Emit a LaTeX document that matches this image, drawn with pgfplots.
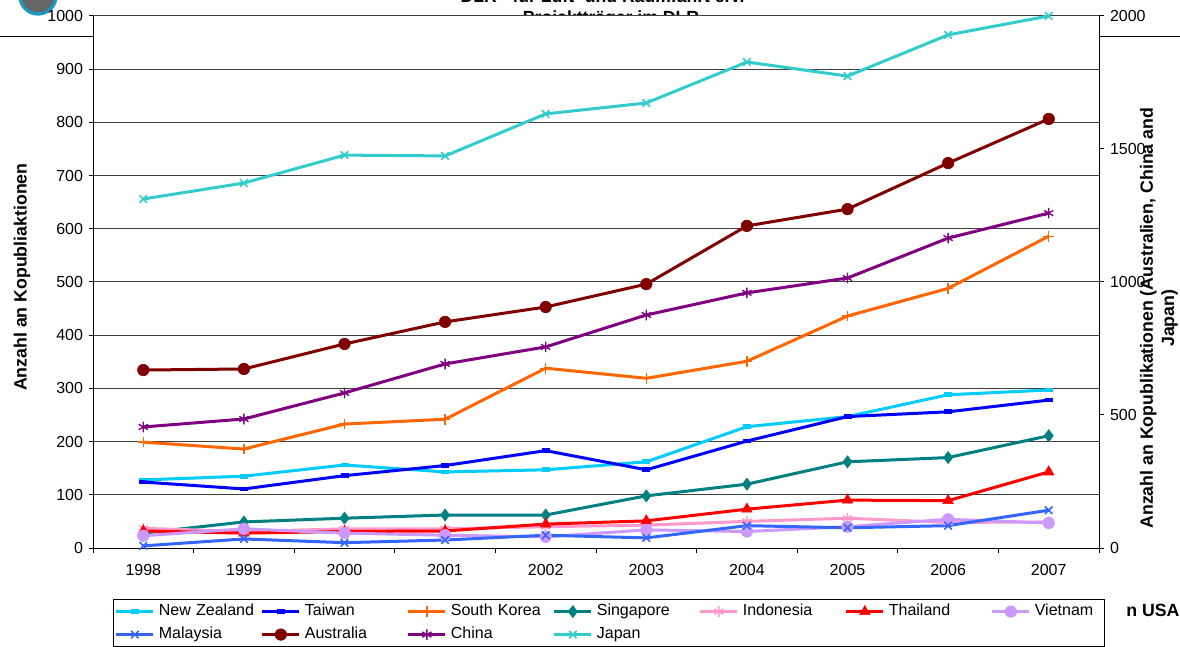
\documentclass[border=0pt]{standalone}
\usepackage{fontspec}
\setmainfont{Liberation Sans}
\usepackage{pgfplots}
\pgfplotsset{compat=1.18}

\definecolor{cNZ}{RGB}{0,204,255}
\definecolor{cTW}{RGB}{0,0,255}
\definecolor{cSK}{RGB}{255,102,0}
\definecolor{cSG}{RGB}{0,128,128}
\definecolor{cID}{RGB}{255,153,204}
\definecolor{cTH}{RGB}{255,0,0}
\definecolor{cVN}{RGB}{204,153,255}
\definecolor{cMY}{RGB}{51,102,255}
\definecolor{cAU}{RGB}{128,0,0}
\definecolor{cCN}{RGB}{128,0,128}
\definecolor{cJP}{RGB}{51,204,204}
\definecolor{cLogo}{RGB}{30,150,190}

\tikzset{
  sNZ/.style={color=cNZ, line width=2.25pt, mark=-, mark size=3pt, mark options={solid, line width=3.5pt}},
  sTW/.style={color=cTW, line width=2.25pt, mark=-, mark size=3pt, mark options={solid, line width=3.5pt}},
  sSK/.style={color=cSK, line width=2.25pt, mark=+, mark size=4pt, mark options={solid, line width=1pt}},
  sSG/.style={color=cSG, line width=2.25pt, mark=diamond*, mark size=4.5pt, mark options={solid, line width=0.5pt}},
  sID/.style={color=cID, line width=2.25pt, mark=asterisk, mark size=4pt, mark options={solid, line width=1pt}},
  sTH/.style={color=cTH, line width=2.25pt, mark=triangle*, mark size=4.5pt, mark options={solid, line width=0.5pt}},
  sVN/.style={color=cVN, line width=2.25pt, mark=*, mark size=4.3pt, mark options={solid, line width=0.5pt}},
  sMY/.style={color=cMY, line width=2.25pt, mark=x, mark size=4pt, mark options={solid, line width=1.2pt}},
  sAU/.style={color=cAU, line width=2.25pt, mark=*, mark size=4.3pt, mark options={solid, line width=0.5pt}},
  sCN/.style={color=cCN, line width=2.25pt, mark=asterisk, mark size=4pt, mark options={solid, line width=1pt}},
  sJP/.style={color=cJP, line width=2.25pt, mark=x, mark size=4pt, mark options={solid, line width=1.2pt}},
}

\pgfplotsset{
  common/.style={
    at={(69.75pt,73.5pt)}, anchor=south west,
    scale only axis, width=754.5pt, height=399pt,
    xmin=1997.5, xmax=2007.5,
    tick align=outside,
    tick style={black, line width=0.75pt},
    axis line style={-, black, line width=0.75pt},
    tick label style={font=\fontsize{12}{14}\selectfont},
    /pgf/number format/assume math mode=true,
    /pgf/number format/1000 sep={},
    clip=false,
  },
}

\begin{document}
\begin{tikzpicture}[x=1pt,y=1pt]
\useasboundingbox (0,0) rectangle (885,484.5);
\clip (0,0) rectangle (885,484.5);

% slide background elements
\draw[line width=0.75pt] (0,456.75) -- (885,456.75);
\draw[draw=cLogo, line width=2.5pt, fill=black!60] (28.5,487.5) circle (13.5);
\node[font=\bfseries\fontsize{13.2}{15}\selectfont, anchor=base, inner sep=0] at (452,482.5) {DLR - für Luft- und Raumfahrt e.V.};
\node[font=\bfseries\fontsize{13.2}{15}\selectfont, anchor=base, inner sep=0] at (458.25,466.8) {Projektträger im DLR};
\node[font=\bfseries\fontsize{13.3}{16}\selectfont, anchor=west, inner sep=0] at (844.5,27) {n USA};

% left axis
\begin{axis}[common,
  ymin=0, ymax=1000,
  axis x line*=bottom, axis y line*=left,
  axis background/.style={fill=white},
  xtick={1998,1999,2000,2001,2002,2003,2004,2005,2006,2007},
  xticklabels={1998,1999,2000,2001,2002,2003,2004,2005,2006,2007},
  minor xtick={1997.5,1998.5,1999.5,2000.5,2001.5,2002.5,2003.5,2004.5,2005.5,2006.5,2007.5},
  major x tick style={draw=none},
  major tick length=3pt, minor tick length=4pt,
  xticklabel style={yshift=-5.5pt},
  yticklabel style={xshift=-1pt},
  ytick={0,100,...,1000},
  ymajorgrids, major grid style={black!75, line width=0.75pt},
  ylabel={Anzahl an Kopubliaktionen},
  ylabel style={font=\bfseries\fontsize{13.3}{16}\selectfont, at={(axis description cs:-0.0706,0.509)}, anchor=center},
]
\addplot[sNZ] coordinates {(1998,128) (1999,135) (2000,156) (2001,143) (2002,147) (2003,162) (2004,228) (2005,247) (2006,288) (2007,297)};
\addplot[sTW] coordinates {(1998,124) (1999,111) (2000,136) (2001,155) (2002,183) (2003,147) (2004,201) (2005,247) (2006,256) (2007,278)};
\addplot[sSK] coordinates {(1998,199) (1999,186) (2000,233) (2001,242) (2002,338) (2003,319) (2004,351) (2005,436) (2006,488) (2007,586)};
\addplot[sSG] coordinates {(1998,28) (1999,49) (2000,56) (2001,62) (2002,62) (2003,98) (2004,120) (2005,162) (2006,170) (2007,211)};
\addplot[sID] coordinates {(1998,37) (1999,31) (2000,36) (2001,36) (2002,40) (2003,43) (2004,50) (2005,56) (2006,48) (2007,49)};
\addplot[sTH] coordinates {(1998,32) (1999,28) (2000,31) (2001,32) (2002,45) (2003,51) (2004,73) (2005,90) (2006,89) (2007,143)};
\addplot[sVN] coordinates {(1998,23) (1999,36) (2000,28) (2001,24) (2002,21) (2003,34) (2004,31) (2005,40) (2006,54) (2007,47)};
\addplot[sMY] coordinates {(1998,4) (1999,17) (2000,10) (2001,15) (2002,24) (2003,19) (2004,42) (2005,38) (2006,42) (2007,71)};
\end{axis}

% right axis
\begin{axis}[common,
  ymin=0, ymax=2000,
  axis y line*=right, axis x line=none,
  ytick={0,500,...,2000},
  major tick length=3.75pt,
  yticklabel style={xshift=1pt},
  ylabel={Anzahl an Kopublikationen (Australien, China and\\Japan)},
  ylabel style={font=\bfseries\fontsize{13.3}{16}\selectfont, align=center, at={(axis description cs:1.0596,0.432)}, anchor=center},
  legend columns=7,
  legend cell align=left,
  legend image code/.code={\draw[mark repeat=2,mark phase=2] plot coordinates {(0pt,0pt)(13.875pt,0pt)(27.75pt,0pt)};},
  legend style={at={(axis description cs:0.0199,-0.0959)}, anchor=north west,
    draw=black, line width=0.75pt, fill=white, inner xsep=1pt, inner ysep=0.5pt,
    font=\fontsize{12}{14}\selectfont, row sep=0pt, column sep=0pt,
    nodes={inner xsep=3pt, inner ysep=2.6pt, text height=9pt, text depth=3pt, text width=73.5pt, align=left}},
]
\addlegendimage{sNZ}\addlegendentry{New Zealand}
\addlegendimage{sTW}\addlegendentry{Taiwan}
\addlegendimage{sSK}\addlegendentry{South Korea}
\addlegendimage{sSG}\addlegendentry{Singapore}
\addlegendimage{sID}\addlegendentry{Indonesia}
\addlegendimage{sTH}\addlegendentry{Thailand}
\addlegendimage{sVN}\addlegendentry[text width=48pt]{Vietnam}
\addlegendimage{sMY}\addlegendentry{Malaysia}
\addplot[sAU] coordinates {(1998,669) (1999,673) (2000,767) (2001,850) (2002,906) (2003,992) (2004,1211) (2005,1274) (2006,1447) (2007,1613)};
\addlegendentry{Australia}
\addplot[sCN] coordinates {(1998,455) (1999,485) (2000,583) (2001,692) (2002,756) (2003,876) (2004,959) (2005,1015) (2006,1165) (2007,1259)};
\addlegendentry{China}
\addplot[sJP] coordinates {(1998,1312) (1999,1372) (2000,1477) (2001,1474) (2002,1632) (2003,1673) (2004,1827) (2005,1774) (2006,1929) (2007,2000)};
\addlegendentry{Japan}
\end{axis}
\end{tikzpicture}
\end{document}
